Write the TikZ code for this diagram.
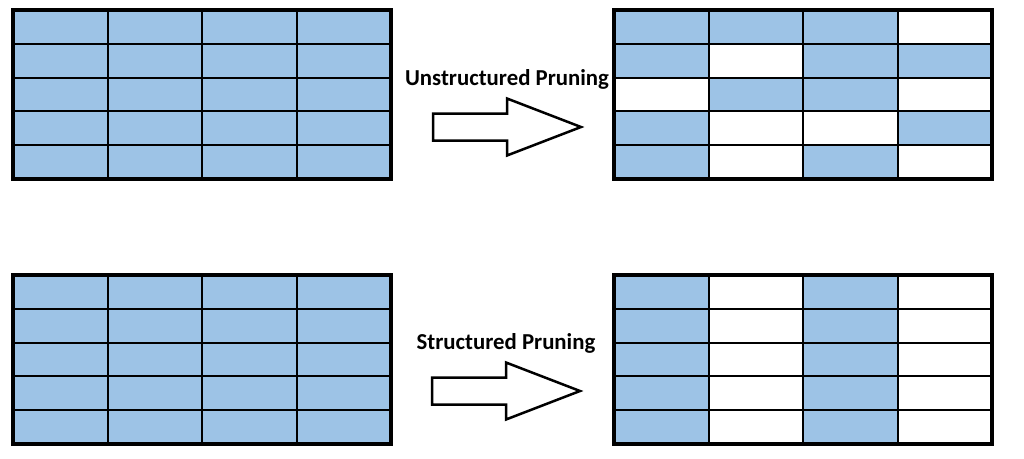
\documentclass[tikz,border=0pt]{standalone}
\usepackage{fontspec}
\setmainfont{Carlito}
\usetikzlibrary{positioning}

\definecolor{weightblue}{RGB}{157,195,230}
\def\cellw{94.5}
\def\cellh{33.8}

% #1,#2 = top left corner, #3 = pruned cells as col/row
\newcommand{\weightgrid}[3]{%
  \fill[weightblue] (#1,#2) rectangle ++(4*\cellw,5*\cellh);
  \foreach \c/\r in {#3} {
    \ifx\c\empty\else                     % no pruned cells, nothing to clear
      \fill[white] (#1+\c*\cellw,#2+\r*\cellh) rectangle ++(\cellw,\cellh);
    \fi
  }
  \foreach \c in {1,2,3}
    \draw[cell line] (#1+\c*\cellw,#2) -- ++(0,5*\cellh);
  \foreach \r in {1,...,4}
    \draw[cell line] (#1,#2+\r*\cellh) -- ++(4*\cellw,0);
  \draw[grid border] (#1,#2) rectangle ++(4*\cellw,5*\cellh);
}

\begin{document}
\begin{tikzpicture}[x=1pt, y=-1pt,
    cell line/.style  = {line width=2pt},
    grid border/.style = {line width=4pt},
    prune arrow/.pic = {
      \draw[line width=2.5pt, fill=white, line join=miter]
        (0,-13.5) -- (74,-13.5) -- (74,-28.5) -- (148,0) -- (74,28.5)
        -- (74,13.5) -- (0,13.5) -- cycle;
      \coordinate (-top) at (74,-28.5);
    },
    prune label/.style = {font=\fontsize{22.8}{26}\selectfont\bfseries,
      inner sep=0pt, anchor=south}]
  \useasboundingbox (0,0) rectangle (1024,458);

  % dense weights on the left
  \weightgrid{13}{10}{}
  \weightgrid{13}{275}{}

  % unstructured: single weights removed
  \weightgrid{614}{10}{3/0, 1/1, 0/2, 3/2, 1/3, 2/3, 1/4, 3/4}
  % structured: whole columns removed
  \weightgrid{614}{275}{1/0, 1/1, 1/2, 1/3, 1/4, 3/0, 3/1, 3/2, 3/3, 3/4}

  \pic (unstructArrow) at (433,127) {prune arrow};
  \node[prune label] (unstructLabel) at ([yshift=9pt]unstructArrow-top)
    {Unstructured Pruning};

  \pic (structArrow) at (432,391) {prune arrow};
  \node[prune label] (structLabel) at ([yshift=9pt]structArrow-top)
    {Structured Pruning};
\end{tikzpicture}
\end{document}
